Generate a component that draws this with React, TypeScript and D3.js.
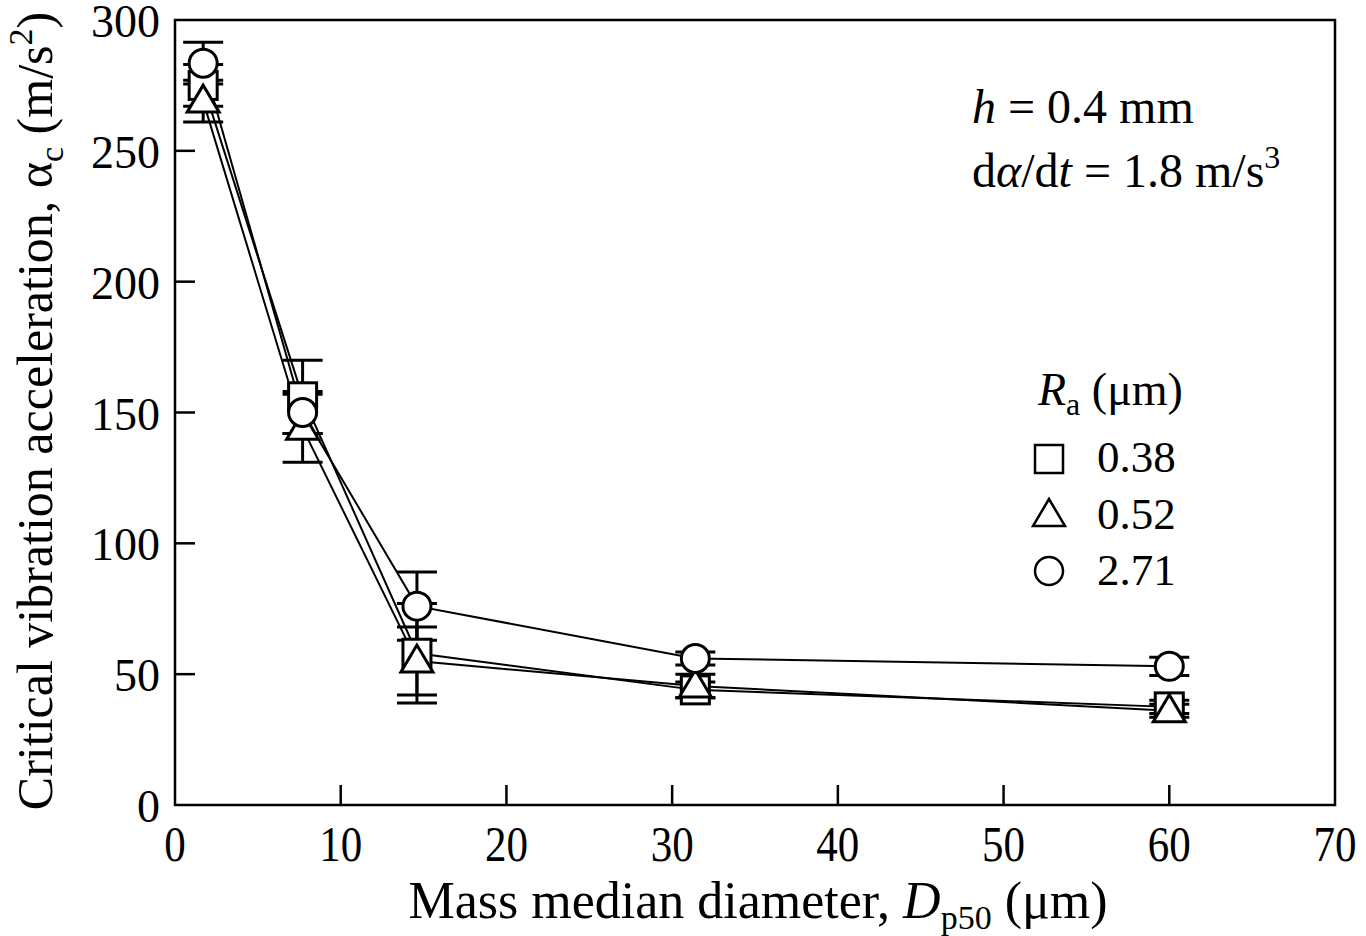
import React from "react";
import * as d3 from "d3";

const xValues = [1.7, 7.7, 14.6, 31.4, 60];
const sq038 = [275, 156, 58, 44, 37.5];
const sq038Err = [8, 14, 19, 3, 2.5];
const tri052 = [269, 144, 55, 45.5, 36];
const tri052Err = [8, 13, 13, 4.5, 2.5];
const circ271 = [283.5, 150, 76, 56, 53];
const circ271Err = [8, 8, 13, 2.5, 3.5];
const xTicks = [0, 10, 20, 30, 40, 50, 60, 70];
const yTicks = [0, 50, 100, 150, 200, 250, 300];
const seriesNames = ["0.38", "0.52", "2.71"];
const seriesShapes = ["square", "triangle", "circle"];

const W = 1366, H = 936;
const FONT = "'Liberation Serif', 'Times New Roman', serif";

function Marker({ shape, cx, cy, s = 1, sw = 3 }: { shape: string; cx: number; cy: number; s?: number; sw?: number }) {
  if (shape === "square") {
    const h = 14 * s;
    return <rect x={cx - h} y={cy - h} width={2 * h} height={2 * h} fill="#fff" stroke="#000" strokeWidth={sw} />;
  }
  if (shape === "triangle") {
    const pts = [[cx, cy - 16 * s], [cx - 16 * s, cy + 11 * s], [cx + 16 * s, cy + 11 * s]];
    return <polygon points={pts.map((p) => p.join(",")).join(" ")} fill="#fff" stroke="#000" strokeWidth={sw} strokeLinejoin="miter" />;
  }
  return <circle cx={cx} cy={cy} r={14 * s} fill="#fff" stroke="#000" strokeWidth={sw} />;
}

export default function App() {
  const x = d3.scaleLinear().domain([0, 70]).range([175, 1335]);
  const y = d3.scaleLinear().domain([0, 300]).range([805, 20]);
  const series = [
    { v: sq038, e: sq038Err, shape: seriesShapes[0] },
    { v: tri052, e: tri052Err, shape: seriesShapes[1] },
    { v: circ271, e: circ271Err, shape: seriesShapes[2] },
  ];
  const line = d3.line<number>().x((_, i) => x(xValues[i])).y((d) => y(d));
  const capW = 20;

  return (
    <svg width={W} height={H} style={{ position: "absolute", left: 0, top: 0, background: "#fff" }} fontFamily={FONT}>
      <rect x={0} y={0} width={W} height={H} fill="#fff" />
      {/* frame */}
      <rect x={x(0)} y={y(300)} width={x(70) - x(0)} height={y(0) - y(300)} fill="none" stroke="#000" strokeWidth={2.5} />
      {/* ticks */}
      {xTicks.map((t) => (
        <g key={"xt" + t}>
          {t > 0 && t < 70 && <line x1={x(t)} x2={x(t)} y1={y(0)} y2={y(0) - 20} stroke="#000" strokeWidth={2.5} />}
          <text transform={`translate(${x(t)},861) scale(0.86,1)`} fontSize={50} textAnchor="middle">{t}</text>
        </g>
      ))}
      {yTicks.map((t) => (
        <g key={"yt" + t}>
          {t > 0 && t < 300 && <line x1={x(0)} x2={x(0) + 20} y1={y(t)} y2={y(t)} stroke="#000" strokeWidth={2.5} />}
          <text x={160} y={y(t) + 17} fontSize={46} textAnchor="end">{t}</text>
        </g>
      ))}
      {/* axis titles */}
      <text x={758} y={918} fontSize={52} textAnchor="middle">
        Mass median diameter, <tspan fontStyle="italic">D</tspan>
        <tspan fontSize={34} dy={11}>p50</tspan>
        <tspan dy={-11}> (μm)</tspan>
      </text>
      <text transform={`translate(52,411) rotate(-90)`} fontSize={50} textAnchor="middle">
        Critical vibration acceleration, α<tspan fontSize={34} dy={11}>c</tspan>
        <tspan dy={-11}> (m/s</tspan>
        <tspan fontSize={34} dy={-20}>2</tspan>
        <tspan dy={20}>)</tspan>
      </text>
      {/* lines */}
      {series.map((s, k) => (
        <path key={"l" + k} d={line(s.v) || ""} fill="none" stroke="#000" strokeWidth={2} />
      ))}
      {/* error bars */}
      {series.map((s, k) =>
        s.v.map((v, i) => {
          const cx = x(xValues[i]);
          const yt = y(v + s.e[i]);
          const yb = y(v - s.e[i]);
          return (
            <g key={"e" + k + "-" + i} stroke="#000" strokeWidth={3}>
              <line x1={cx} x2={cx} y1={yt} y2={yb} />
              <line x1={cx - capW} x2={cx + capW} y1={yt} y2={yt} />
              <line x1={cx - capW} x2={cx + capW} y1={yb} y2={yb} />
            </g>
          );
        })
      )}
      {/* markers */}
      {series.map((s, k) =>
        s.v.map((v, i) => <Marker key={"m" + k + "-" + i} shape={s.shape} cx={x(xValues[i])} cy={y(v)} />)
      )}
      {/* annotations */}
      <text x={972} y={123} fontSize={48}>
        <tspan fontStyle="italic">h</tspan> = 0.4 mm
      </text>
      <text x={972} y={187} fontSize={48}>
        d<tspan fontStyle="italic">α</tspan>/d<tspan fontStyle="italic">t</tspan> = 1.8 m/s
        <tspan fontSize={32} dy={-19}>3</tspan>
      </text>
      {/* legend */}
      <text x={1038} y={405} fontSize={46}>
        <tspan fontStyle="italic">R</tspan>
        <tspan fontSize={32} dy={10}>a</tspan>
        <tspan dy={-10}> (μm)</tspan>
      </text>
      {seriesNames.map((n, k) => (
        <g key={"lg" + k}>
          <Marker shape={seriesShapes[k]} cx={1049} cy={459 + k * 56} s={1} sw={2.5} />
          <text x={1097} y={472 + k * 56.5} fontSize={45}>{n}</text>
        </g>
      ))}
    </svg>
  );
}
